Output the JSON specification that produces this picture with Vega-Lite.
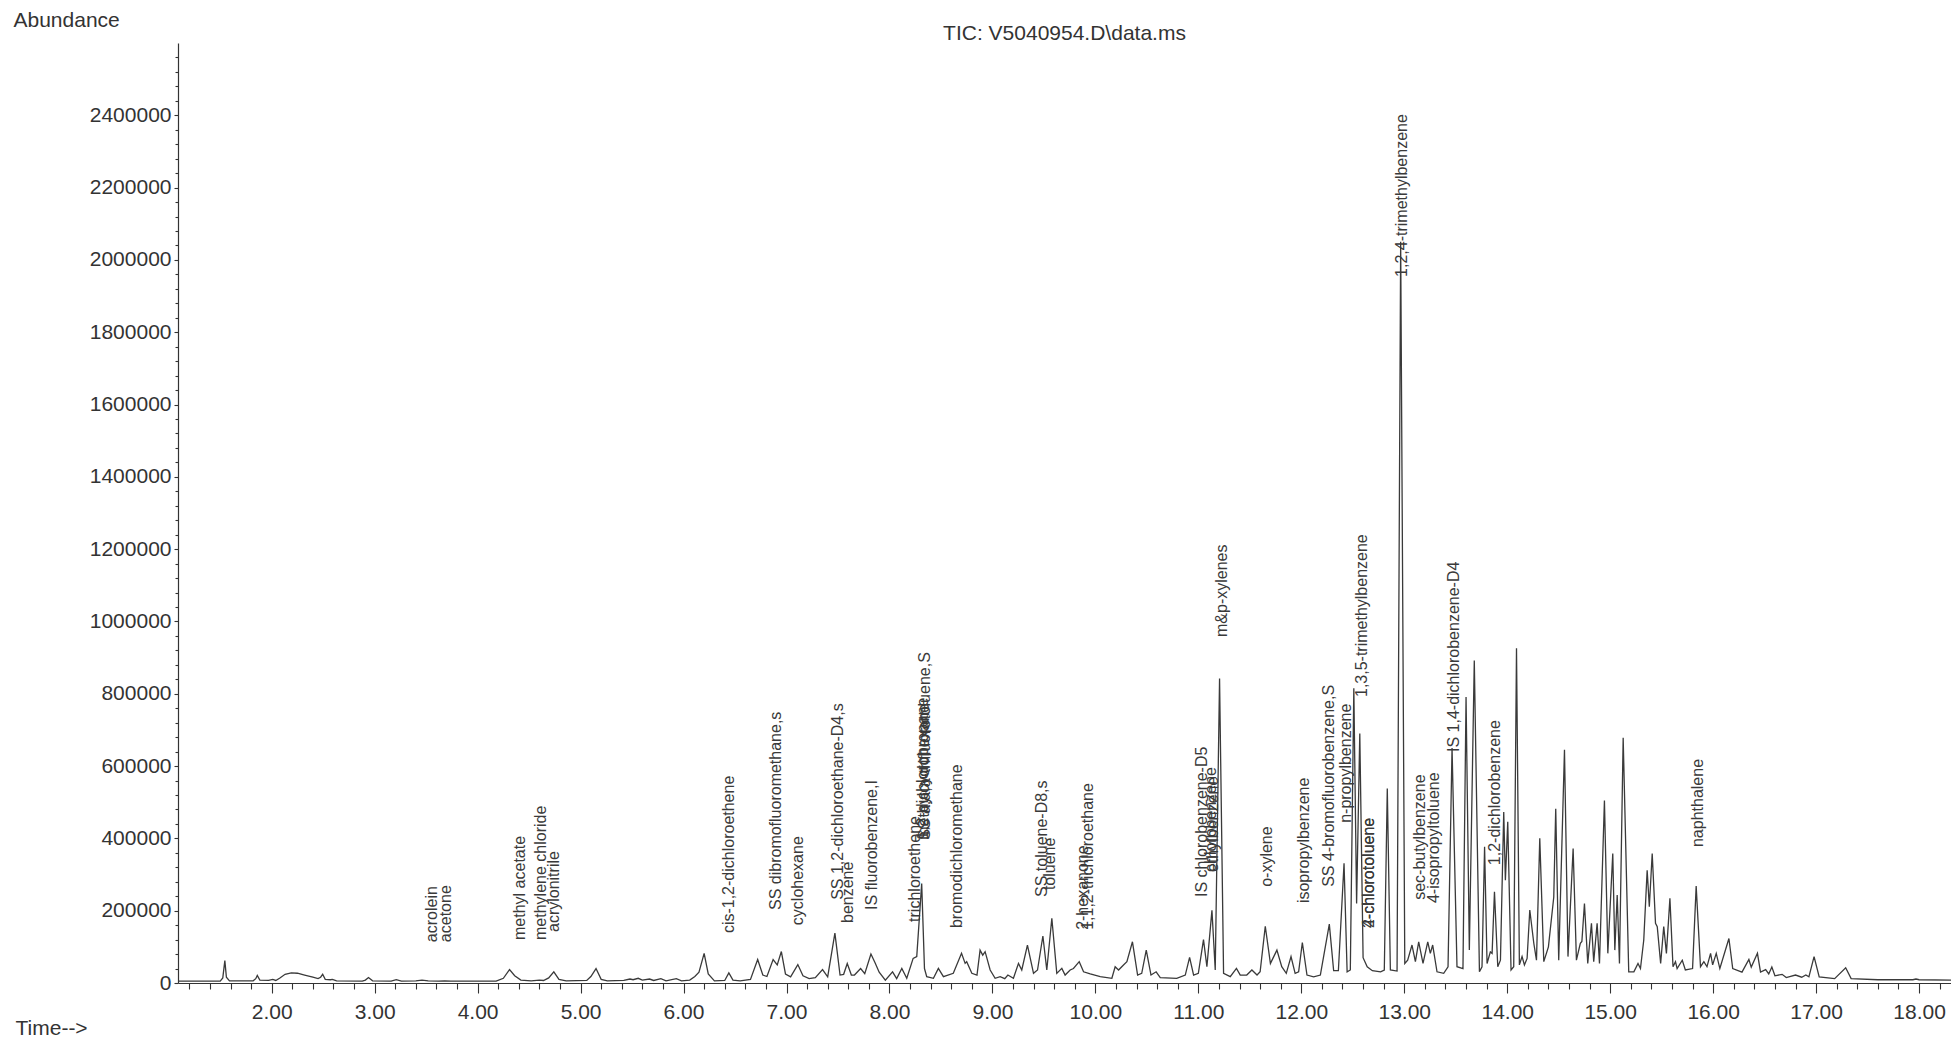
{
  "$schema": "https://vega.github.io/schema/vega-lite/v6.json",
  "autosize": "none",
  "width": 1773,
  "height": 940,
  "padding": {"left": 178, "top": 43, "right": 0, "bottom": 54},
  "background": "white",
  "view": {"stroke": null},
  "title": {"text": "TIC: V5040954.D\\data.ms", "font": "Liberation Sans", "fontSize": 21, "fontWeight": "normal", "color": "#333333", "anchor": "middle", "frame": "group", "baseline": "alphabetic", "offset": 4, "dy": 56},
  "config": {
    "axis": {"labelFont": "Liberation Sans", "labelFontSize": 21, "labelColor": "#333333", "tickColor": "#333333", "domainColor": "#333333", "domainWidth": 1.2, "tickWidth": 1.1, "grid": false, "titleFont": "Liberation Sans", "titleFontSize": 21, "titleFontWeight": "normal", "titleColor": "#333333"}
  },
  "datasets": {
    "tic": [
      {"time": 1.09, "abundance": 5000}, {"time": 1.5, "abundance": 5000}, {"time": 1.525, "abundance": 14000}, {"time": 1.545, "abundance": 62000}, {"time": 1.56, "abundance": 16000}, {"time": 1.59, "abundance": 6000},
      {"time": 1.82, "abundance": 6000}, {"time": 1.845, "abundance": 12000}, {"time": 1.86, "abundance": 21000}, {"time": 1.885, "abundance": 8000}, {"time": 1.97, "abundance": 7000}, {"time": 2.01, "abundance": 10000}, {"time": 2.04, "abundance": 7000},
      {"time": 2.08, "abundance": 14000}, {"time": 2.13, "abundance": 24000}, {"time": 2.19, "abundance": 28000}, {"time": 2.25, "abundance": 27000}, {"time": 2.32, "abundance": 22000}, {"time": 2.4, "abundance": 16000}, {"time": 2.45, "abundance": 12000},
      {"time": 2.475, "abundance": 16000}, {"time": 2.495, "abundance": 24000}, {"time": 2.52, "abundance": 10000}, {"time": 2.57, "abundance": 9000}, {"time": 2.59, "abundance": 10000}, {"time": 2.63, "abundance": 6000},
      {"time": 2.88, "abundance": 5000}, {"time": 2.91, "abundance": 8000}, {"time": 2.94, "abundance": 15000}, {"time": 2.98, "abundance": 6000}, {"time": 3.16, "abundance": 5000}, {"time": 3.21, "abundance": 9000}, {"time": 3.26, "abundance": 5000},
      {"time": 3.4, "abundance": 6000}, {"time": 3.46, "abundance": 8000}, {"time": 3.52, "abundance": 6000}, {"time": 3.62, "abundance": 5000}, {"time": 3.68, "abundance": 6000}, {"time": 3.74, "abundance": 5000},
      {"time": 4.18, "abundance": 5000}, {"time": 4.25, "abundance": 13000}, {"time": 4.31, "abundance": 37000}, {"time": 4.36, "abundance": 20000}, {"time": 4.42, "abundance": 8000}, {"time": 4.52, "abundance": 6000},
      {"time": 4.6, "abundance": 8000}, {"time": 4.64, "abundance": 7000}, {"time": 4.69, "abundance": 14000}, {"time": 4.74, "abundance": 31000}, {"time": 4.79, "abundance": 10000}, {"time": 4.86, "abundance": 6000},
      {"time": 5.06, "abundance": 7000}, {"time": 5.1, "abundance": 18000}, {"time": 5.15, "abundance": 40000}, {"time": 5.2, "abundance": 10000}, {"time": 5.26, "abundance": 6000},
      {"time": 5.42, "abundance": 7000}, {"time": 5.48, "abundance": 11000}, {"time": 5.51, "abundance": 9000}, {"time": 5.56, "abundance": 13000}, {"time": 5.6, "abundance": 8000}, {"time": 5.67, "abundance": 11000}, {"time": 5.71, "abundance": 7000},
      {"time": 5.78, "abundance": 12000}, {"time": 5.83, "abundance": 6000}, {"time": 5.93, "abundance": 12000}, {"time": 5.98, "abundance": 6000}, {"time": 6.06, "abundance": 8000}, {"time": 6.11, "abundance": 18000}, {"time": 6.15, "abundance": 30000},
      {"time": 6.2, "abundance": 82000}, {"time": 6.24, "abundance": 25000}, {"time": 6.3, "abundance": 6000}, {"time": 6.4, "abundance": 7000}, {"time": 6.44, "abundance": 28000}, {"time": 6.48, "abundance": 8000}, {"time": 6.55, "abundance": 6000},
      {"time": 6.65, "abundance": 10000}, {"time": 6.72, "abundance": 65000}, {"time": 6.77, "abundance": 22000}, {"time": 6.81, "abundance": 18000}, {"time": 6.87, "abundance": 65000}, {"time": 6.91, "abundance": 50000}, {"time": 6.95, "abundance": 87000},
      {"time": 6.99, "abundance": 25000}, {"time": 7.04, "abundance": 17000}, {"time": 7.11, "abundance": 51000}, {"time": 7.16, "abundance": 20000}, {"time": 7.22, "abundance": 12000}, {"time": 7.28, "abundance": 15000}, {"time": 7.35, "abundance": 37000},
      {"time": 7.4, "abundance": 17000}, {"time": 7.47, "abundance": 138000}, {"time": 7.52, "abundance": 22000}, {"time": 7.555, "abundance": 24000}, {"time": 7.59, "abundance": 54000}, {"time": 7.63, "abundance": 22000}, {"time": 7.66, "abundance": 22000},
      {"time": 7.72, "abundance": 40000}, {"time": 7.76, "abundance": 26000}, {"time": 7.82, "abundance": 80000}, {"time": 7.86, "abundance": 56000}, {"time": 7.9, "abundance": 30000}, {"time": 7.96, "abundance": 8000}, {"time": 8.03, "abundance": 31000},
      {"time": 8.07, "abundance": 12000}, {"time": 8.12, "abundance": 40000}, {"time": 8.168, "abundance": 13000}, {"time": 8.23, "abundance": 68000}, {"time": 8.265, "abundance": 73000}, {"time": 8.313, "abundance": 275000}, {"time": 8.34, "abundance": 40000},
      {"time": 8.362, "abundance": 17500}, {"time": 8.427, "abundance": 13000}, {"time": 8.475, "abundance": 40500}, {"time": 8.524, "abundance": 17500}, {"time": 8.62, "abundance": 26700}, {"time": 8.7, "abundance": 82000}, {"time": 8.735, "abundance": 54300},
      {"time": 8.75, "abundance": 59000}, {"time": 8.8, "abundance": 26700}, {"time": 8.85, "abundance": 22000}, {"time": 8.88, "abundance": 91000}, {"time": 8.906, "abundance": 77000}, {"time": 8.929, "abundance": 86600}, {"time": 8.978, "abundance": 36000},
      {"time": 9.026, "abundance": 13000}, {"time": 9.075, "abundance": 17500}, {"time": 9.12, "abundance": 12000}, {"time": 9.15, "abundance": 22000}, {"time": 9.204, "abundance": 13000}, {"time": 9.253, "abundance": 54300}, {"time": 9.285, "abundance": 36000},
      {"time": 9.34, "abundance": 105000}, {"time": 9.399, "abundance": 26700}, {"time": 9.438, "abundance": 36000}, {"time": 9.49, "abundance": 130000}, {"time": 9.528, "abundance": 36000}, {"time": 9.577, "abundance": 179000}, {"time": 9.625, "abundance": 26700},
      {"time": 9.674, "abundance": 40500}, {"time": 9.706, "abundance": 22000}, {"time": 9.755, "abundance": 36000}, {"time": 9.787, "abundance": 40000}, {"time": 9.843, "abundance": 59000}, {"time": 9.885, "abundance": 31000}, {"time": 9.95, "abundance": 25000},
      {"time": 10.047, "abundance": 17500}, {"time": 10.16, "abundance": 13000}, {"time": 10.192, "abundance": 45000}, {"time": 10.225, "abundance": 36000}, {"time": 10.273, "abundance": 50000}, {"time": 10.306, "abundance": 59000}, {"time": 10.36, "abundance": 114000},
      {"time": 10.41, "abundance": 22000}, {"time": 10.45, "abundance": 26700}, {"time": 10.494, "abundance": 91000}, {"time": 10.54, "abundance": 22000}, {"time": 10.59, "abundance": 31000}, {"time": 10.63, "abundance": 15000}, {"time": 10.79, "abundance": 13000},
      {"time": 10.873, "abundance": 22000}, {"time": 10.915, "abundance": 71000}, {"time": 10.954, "abundance": 22000}, {"time": 11.0, "abundance": 26700}, {"time": 11.05, "abundance": 120000}, {"time": 11.083, "abundance": 45000}, {"time": 11.132, "abundance": 201000},
      {"time": 11.164, "abundance": 36000}, {"time": 11.206, "abundance": 842000}, {"time": 11.245, "abundance": 26700}, {"time": 11.31, "abundance": 17500}, {"time": 11.37, "abundance": 40500}, {"time": 11.407, "abundance": 22000}, {"time": 11.47, "abundance": 22000},
      {"time": 11.52, "abundance": 36000}, {"time": 11.57, "abundance": 22000}, {"time": 11.6, "abundance": 31000}, {"time": 11.65, "abundance": 157000}, {"time": 11.7, "abundance": 54000}, {"time": 11.763, "abundance": 91000}, {"time": 11.81, "abundance": 45000},
      {"time": 11.854, "abundance": 26700}, {"time": 11.9, "abundance": 73000}, {"time": 11.94, "abundance": 26700}, {"time": 11.974, "abundance": 31000}, {"time": 12.01, "abundance": 112000}, {"time": 12.055, "abundance": 22000}, {"time": 12.12, "abundance": 17000},
      {"time": 12.185, "abundance": 22000}, {"time": 12.272, "abundance": 163000}, {"time": 12.314, "abundance": 34000}, {"time": 12.36, "abundance": 34000}, {"time": 12.415, "abundance": 331000}, {"time": 12.445, "abundance": 31000}, {"time": 12.476, "abundance": 36000},
      {"time": 12.51, "abundance": 815000}, {"time": 12.537, "abundance": 220000}, {"time": 12.568, "abundance": 690000}, {"time": 12.6, "abundance": 70000}, {"time": 12.64, "abundance": 45000}, {"time": 12.69, "abundance": 34000}, {"time": 12.77, "abundance": 31000},
      {"time": 12.806, "abundance": 36000}, {"time": 12.835, "abundance": 538000}, {"time": 12.865, "abundance": 36000}, {"time": 12.93, "abundance": 33000}, {"time": 12.965, "abundance": 2050000}, {"time": 13.005, "abundance": 54000}, {"time": 13.033, "abundance": 63000},
      {"time": 13.075, "abundance": 105000}, {"time": 13.108, "abundance": 59000}, {"time": 13.14, "abundance": 114000}, {"time": 13.182, "abundance": 54000}, {"time": 13.228, "abundance": 114000}, {"time": 13.253, "abundance": 82000}, {"time": 13.276, "abundance": 105000},
      {"time": 13.318, "abundance": 31000}, {"time": 13.383, "abundance": 26700}, {"time": 13.425, "abundance": 45000}, {"time": 13.464, "abundance": 650000}, {"time": 13.512, "abundance": 45000}, {"time": 13.57, "abundance": 40000}, {"time": 13.6, "abundance": 791000},
      {"time": 13.632, "abundance": 91000}, {"time": 13.68, "abundance": 892000}, {"time": 13.73, "abundance": 31000}, {"time": 13.755, "abundance": 45000}, {"time": 13.78, "abundance": 377000}, {"time": 13.804, "abundance": 54000}, {"time": 13.836, "abundance": 86000},
      {"time": 13.853, "abundance": 82000}, {"time": 13.876, "abundance": 252000}, {"time": 13.908, "abundance": 45000}, {"time": 13.934, "abundance": 63000}, {"time": 13.966, "abundance": 473000}, {"time": 13.982, "abundance": 284000}, {"time": 14.005, "abundance": 446000},
      {"time": 14.037, "abundance": 36000}, {"time": 14.063, "abundance": 45000}, {"time": 14.09, "abundance": 926000}, {"time": 14.118, "abundance": 50000}, {"time": 14.144, "abundance": 73000}, {"time": 14.167, "abundance": 50000}, {"time": 14.193, "abundance": 68000},
      {"time": 14.219, "abundance": 202000}, {"time": 14.258, "abundance": 110000}, {"time": 14.284, "abundance": 63000}, {"time": 14.316, "abundance": 400000}, {"time": 14.355, "abundance": 59000}, {"time": 14.4, "abundance": 100000}, {"time": 14.452, "abundance": 238000},
      {"time": 14.471, "abundance": 482000}, {"time": 14.5, "abundance": 63000}, {"time": 14.556, "abundance": 645000}, {"time": 14.59, "abundance": 73000}, {"time": 14.64, "abundance": 372000}, {"time": 14.672, "abundance": 63000}, {"time": 14.71, "abundance": 110000},
      {"time": 14.725, "abundance": 115000}, {"time": 14.75, "abundance": 220000}, {"time": 14.782, "abundance": 54000}, {"time": 14.818, "abundance": 165000}, {"time": 14.84, "abundance": 59000}, {"time": 14.873, "abundance": 165000}, {"time": 14.896, "abundance": 54000},
      {"time": 14.944, "abundance": 505000}, {"time": 14.977, "abundance": 82000}, {"time": 15.025, "abundance": 358000}, {"time": 15.045, "abundance": 91000}, {"time": 15.068, "abundance": 243000}, {"time": 15.09, "abundance": 54000}, {"time": 15.126, "abundance": 678000},
      {"time": 15.18, "abundance": 31000}, {"time": 15.23, "abundance": 31000}, {"time": 15.27, "abundance": 54000}, {"time": 15.294, "abundance": 40000}, {"time": 15.326, "abundance": 119000}, {"time": 15.359, "abundance": 312000}, {"time": 15.38, "abundance": 211000},
      {"time": 15.408, "abundance": 358000}, {"time": 15.44, "abundance": 165000}, {"time": 15.457, "abundance": 156000}, {"time": 15.49, "abundance": 54000}, {"time": 15.52, "abundance": 156000}, {"time": 15.546, "abundance": 82000}, {"time": 15.58, "abundance": 234000},
      {"time": 15.61, "abundance": 45000}, {"time": 15.634, "abundance": 59000}, {"time": 15.65, "abundance": 40000}, {"time": 15.7, "abundance": 63000}, {"time": 15.73, "abundance": 36000}, {"time": 15.8, "abundance": 40000}, {"time": 15.835, "abundance": 268000},
      {"time": 15.877, "abundance": 45000}, {"time": 15.91, "abundance": 59000}, {"time": 15.94, "abundance": 45000}, {"time": 15.975, "abundance": 82000}, {"time": 15.995, "abundance": 50000}, {"time": 16.03, "abundance": 82000}, {"time": 16.065, "abundance": 40000},
      {"time": 16.153, "abundance": 123000}, {"time": 16.19, "abundance": 40000}, {"time": 16.28, "abundance": 30000}, {"time": 16.347, "abundance": 65000}, {"time": 16.37, "abundance": 44000}, {"time": 16.43, "abundance": 82000}, {"time": 16.46, "abundance": 30000},
      {"time": 16.51, "abundance": 37000}, {"time": 16.54, "abundance": 25000}, {"time": 16.57, "abundance": 44000}, {"time": 16.6, "abundance": 20000}, {"time": 16.67, "abundance": 24000}, {"time": 16.71, "abundance": 15000}, {"time": 16.8, "abundance": 22000},
      {"time": 16.86, "abundance": 16000}, {"time": 16.9, "abundance": 22000}, {"time": 16.93, "abundance": 17000}, {"time": 16.98, "abundance": 73000}, {"time": 17.03, "abundance": 17000}, {"time": 17.18, "abundance": 12000}, {"time": 17.287, "abundance": 42000},
      {"time": 17.34, "abundance": 12000}, {"time": 17.6, "abundance": 9000}, {"time": 17.94, "abundance": 9000}, {"time": 17.97, "abundance": 11000}, {"time": 18.0, "abundance": 9000}, {"time": 18.31, "abundance": 8000}
    ],
    "labels": [
      {"compound": "acrolein", "time": 3.56, "abundance": 113000},
      {"compound": "acetone", "time": 3.69, "abundance": 113000},
      {"compound": "methyl acetate", "time": 4.41, "abundance": 119000},
      {"compound": "methylene chloride", "time": 4.62, "abundance": 119000},
      {"compound": "acrylonitrile", "time": 4.74, "abundance": 141000},
      {"compound": "cis-1,2-dichloroethene", "time": 6.44, "abundance": 138000},
      {"compound": "SS dibromofluoromethane,s", "time": 6.9, "abundance": 202000},
      {"compound": "cyclohexane", "time": 7.11, "abundance": 160000},
      {"compound": "SS 1,2-dichloroethane-D4,s", "time": 7.5, "abundance": 230000},
      {"compound": "benzene", "time": 7.6, "abundance": 166000},
      {"compound": "IS fluorobenzene,I", "time": 7.83, "abundance": 202000},
      {"compound": "trichloroethene", "time": 8.25, "abundance": 169000},
      {"compound": "1,2-dichloropropane", "time": 8.325, "abundance": 396000},
      {"compound": "methylcyclohexane", "time": 8.335, "abundance": 396000},
      {"compound": "SS a,a,a-trifluorotoluene,S", "time": 8.345, "abundance": 396000},
      {"compound": "bromodichloromethane", "time": 8.654, "abundance": 152000},
      {"compound": "SS toluene-D8,s", "time": 9.48, "abundance": 238000},
      {"compound": "toluene", "time": 9.555, "abundance": 257000},
      {"compound": "2-hexanone", "time": 9.88, "abundance": 147000},
      {"compound": "1,1,2-trichloroethane", "time": 9.93, "abundance": 147000},
      {"compound": "IS chlorobenzene-D5", "time": 11.035, "abundance": 238000},
      {"compound": "chlorobenzene", "time": 11.12, "abundance": 307000},
      {"compound": "ethylbenzene", "time": 11.14, "abundance": 307000},
      {"compound": "m&p-xylenes", "time": 11.23, "abundance": 957000},
      {"compound": "o-xylene", "time": 11.666, "abundance": 266000},
      {"compound": "isopropylbenzene", "time": 12.023, "abundance": 221000},
      {"compound": "SS 4-bromofluorobenzene,S", "time": 12.272, "abundance": 266000},
      {"compound": "n-propylbenzene", "time": 12.437, "abundance": 443000},
      {"compound": "1,3,5-trimethylbenzene", "time": 12.589, "abundance": 791000},
      {"compound": "2-chlorotoluene", "time": 12.655, "abundance": 152000},
      {"compound": "4-chlorotoluene", "time": 12.657, "abundance": 152000},
      {"compound": "1,2,4-trimethylbenzene", "time": 12.98, "abundance": 1953000},
      {"compound": "sec-butylbenzene", "time": 13.156, "abundance": 230000},
      {"compound": "4-isopropyltoluene", "time": 13.286, "abundance": 221000},
      {"compound": "IS 1,4-dichlorobenzene-D4", "time": 13.487, "abundance": 639000},
      {"compound": "1,2-dichlorobenzene", "time": 13.885, "abundance": 326000},
      {"compound": "naphthalene", "time": 15.851, "abundance": 376000}
    ]
  },
  "resolve": {"axis": {"x": "independent", "y": "independent"}},
  "layer": [
    {
      "data": {"name": "tic"},
      "mark": {"type": "line", "color": "#3a3a3a", "strokeWidth": 1.3, "interpolate": "linear"},
      "encoding": {
        "x": {"field": "time", "type": "quantitative",
          "scale": {"domain": [1.09, 18.31], "nice": false, "zero": false},
          "axis": {"orient": "bottom", "values": [2, 3, 4, 5, 6, 7, 8, 9, 10, 11, 12, 13, 14, 15, 16, 17, 18], "format": ".2f", "tickSize": 10, "labelPadding": 8, "labelFlush": false, "labelOverlap": false,
            "title": "Time-->", "titleX": -163, "titleY": 45, "titleAlign": "left", "titleBaseline": "middle", "titleAngle": 0}},
        "y": {"field": "abundance", "type": "quantitative",
          "scale": {"domain": [0, 2600000], "nice": false, "zero": true},
          "axis": {"orient": "left", "values": [0, 200000, 400000, 600000, 800000, 1000000, 1200000, 1400000, 1600000, 1800000, 2000000, 2200000, 2400000], "format": "d", "tickSize": 4, "labelPadding": 3, "labelFlush": false, "labelOverlap": false,
            "title": "Abundance", "titleX": -165, "titleY": -23, "titleAlign": "left", "titleBaseline": "middle", "titleAngle": 0}}
      }
    },
    {
      "data": {"name": "labels"},
      "mark": {"type": "text", "angle": 270, "align": "left", "baseline": "middle", "font": "Liberation Sans", "fontSize": 16, "color": "#3a3a3a"},
      "encoding": {
        "x": {"field": "time", "type": "quantitative",
          "axis": {"orient": "bottom", "values": [1.2, 1.4, 1.6, 1.8, 2.2, 2.4, 2.6, 2.8, 3.2, 3.4, 3.6, 3.8, 4.2, 4.4, 4.6, 4.8, 5.2, 5.4, 5.6, 5.8, 6.2, 6.4, 6.6, 6.8, 7.2, 7.4, 7.6, 7.8, 8.2, 8.4, 8.6, 8.8, 9.2, 9.4, 9.6, 9.8, 10.2, 10.4, 10.6, 10.8, 11.2, 11.4, 11.6, 11.8, 12.2, 12.4, 12.6, 12.8, 13.2, 13.4, 13.6, 13.8, 14.2, 14.4, 14.6, 14.8, 15.2, 15.4, 15.6, 15.8, 16.2, 16.4, 16.6, 16.8, 17.2, 17.4, 17.6, 17.8, 18.2], "labels": false, "domain": false, "tickSize": 6, "title": null}},
        "y": {"field": "abundance", "type": "quantitative",
          "axis": {"orient": "left", "values": [40000, 80000, 120000, 160000, 240000, 280000, 320000, 360000, 440000, 480000, 520000, 560000, 640000, 680000, 720000, 760000, 840000, 880000, 920000, 960000, 1040000, 1080000, 1120000, 1160000, 1240000, 1280000, 1320000, 1360000, 1440000, 1480000, 1520000, 1560000, 1640000, 1680000, 1720000, 1760000, 1840000, 1880000, 1920000, 1960000, 2040000, 2080000, 2120000, 2160000, 2240000, 2280000, 2320000, 2360000, 2440000, 2480000, 2520000, 2560000], "labels": false, "domain": false, "tickSize": 3, "title": null}},
        "text": {"field": "compound", "type": "nominal"}
      }
    }
  ]
}
